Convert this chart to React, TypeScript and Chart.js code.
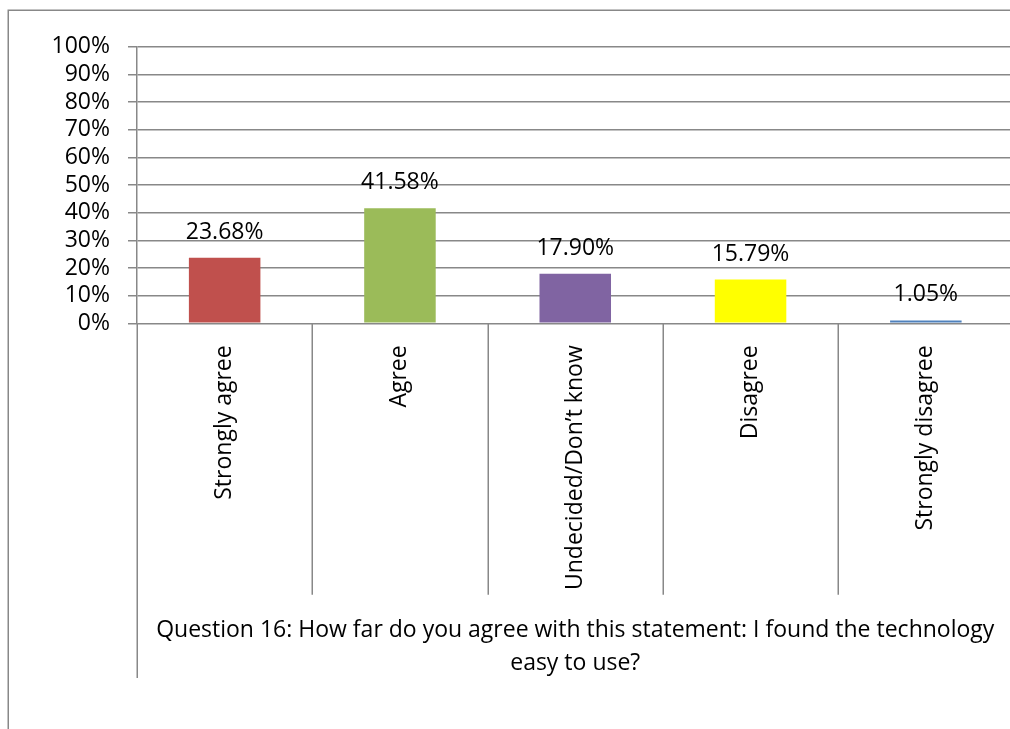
import React, { useEffect, useRef } from "react";
import { Chart, registerables } from "chart.js";

Chart.register(...registerables);

const categories = ["Strongly agree", "Agree", "Undecided/Don’t know", "Disagree", "Strongly disagree"];
const percentages = [23.68, 41.58, 17.9, 15.79, 1.05];
const barColors = ["#C0504D", "#9BBB59", "#8064A2", "#FFFF00", "#4F81BD"];
const yTickValues = [0, 10, 20, 30, 40, 50, 60, 70, 80, 90, 100];
const titleLines = [
  "Question 16: How far do you agree with this statement: I found the technology",
  "easy to use?",
];

const FONT = "'Open Sans', 'DejaVu Sans', sans-serif";
const FS = 23;
const LINE = "#888888";
const W = 1016;
const H = 729;

const decorPlugin = {
  id: "decor",
  beforeDraw(chart: any) {
    const ctx = chart.ctx;
    ctx.save();
    ctx.strokeStyle = LINE;
    ctx.lineWidth = 1.5;
    ctx.beginPath();
    ctx.moveTo(8.25, H + 5);
    ctx.lineTo(8.25, 10.25);
    ctx.lineTo(W + 5, 10.25);
    ctx.stroke();
    ctx.restore();
  },
  afterDraw(chart: any) {
    const ctx = chart.ctx;
    const xs = chart.scales.x;
    const area = chart.chartArea;
    const n = categories.length;
    const step = xs.getPixelForValue(1) - xs.getPixelForValue(0);
    ctx.save();
    ctx.strokeStyle = LINE;
    ctx.lineWidth = 1.5;
    // category dividers
    for (let i = 1; i <= n; i++) {
      const x = xs.getPixelForValue(i - 1) + step / 2;
      ctx.beginPath();
      ctx.moveTo(Math.round(x) + 0.25, area.bottom);
      ctx.lineTo(Math.round(x) + 0.25, 594.7);
      ctx.stroke();
    }
    // extended left axis
    ctx.beginPath();
    ctx.moveTo(Math.round(area.left) + 0.25, area.bottom);
    ctx.lineTo(Math.round(area.left) + 0.25, 678);
    ctx.stroke();
    // data labels
    ctx.fillStyle = "#000000";
    ctx.font = `${FS}px ${FONT}`;
    ctx.textAlign = "center";
    ctx.textBaseline = "alphabetic";
    const meta = chart.getDatasetMeta(0);
    meta.data.forEach((bar: any, i: number) => {
      ctx.fillText(percentages[i].toFixed(2) + "%", bar.x, bar.y - 19);
    });
    ctx.restore();
  },
};

export default function App() {
  const ref = useRef<HTMLCanvasElement | null>(null);
  useEffect(() => {
    if (!ref.current) return;
    const chart = new Chart(ref.current, {
      type: "bar",
      data: {
        labels: categories,
        datasets: [
          {
            data: percentages,
            backgroundColor: barColors,
            borderWidth: 0,
            barPercentage: 0.408,
            categoryPercentage: 1,
          },
        ],
      },
      options: {
        responsive: false,
        animation: false,
        layout: { padding: { top: 46.7, left: 0, right: 2.5, bottom: 0 } },
        plugins: { legend: { display: false }, tooltip: { enabled: false } },
        scales: {
          x: {
            grid: { display: false },
            border: { display: false },
            ticks: {
              minRotation: 90,
              maxRotation: 90,
              padding: 14,
              color: "#000",
              font: { family: FONT, size: FS },
              autoSkip: false,
            },
            title: {
              display: true,
              text: titleLines,
              color: "#000",
              font: { family: FONT, size: FS, lineHeight: 1.42 },
              padding: { top: 0, bottom: 49.6 },
            },
            afterFit(scale: any) {
              scale.height = H - 323.3;
            },
          },
          y: {
            min: 0,
            max: 100,
            afterBuildTicks(scale: any) {
              scale.ticks = yTickValues.map((v) => ({ value: v }));
            },
            grid: { color: LINE, lineWidth: 1.5, tickLength: 9 },
            border: { display: true, color: LINE, width: 1.5 },
            ticks: {
              autoSkip: false,
              padding: 18,
              color: "#000",
              font: { family: FONT, size: FS },
              callback: (v: any) => v + "%",
            },
            afterFit(scale: any) {
              scale.width = 137;
            },
          },
        },
      },
      plugins: [decorPlugin],
    });
    return () => chart.destroy();
  }, []);
  return (
    <div style={{ position: "fixed", left: 0, top: 0, width: W, height: H, background: "#fff" }}>
      <canvas ref={ref} width={W} height={H} style={{ width: W, height: H, display: "block" }} />
    </div>
  );
}
